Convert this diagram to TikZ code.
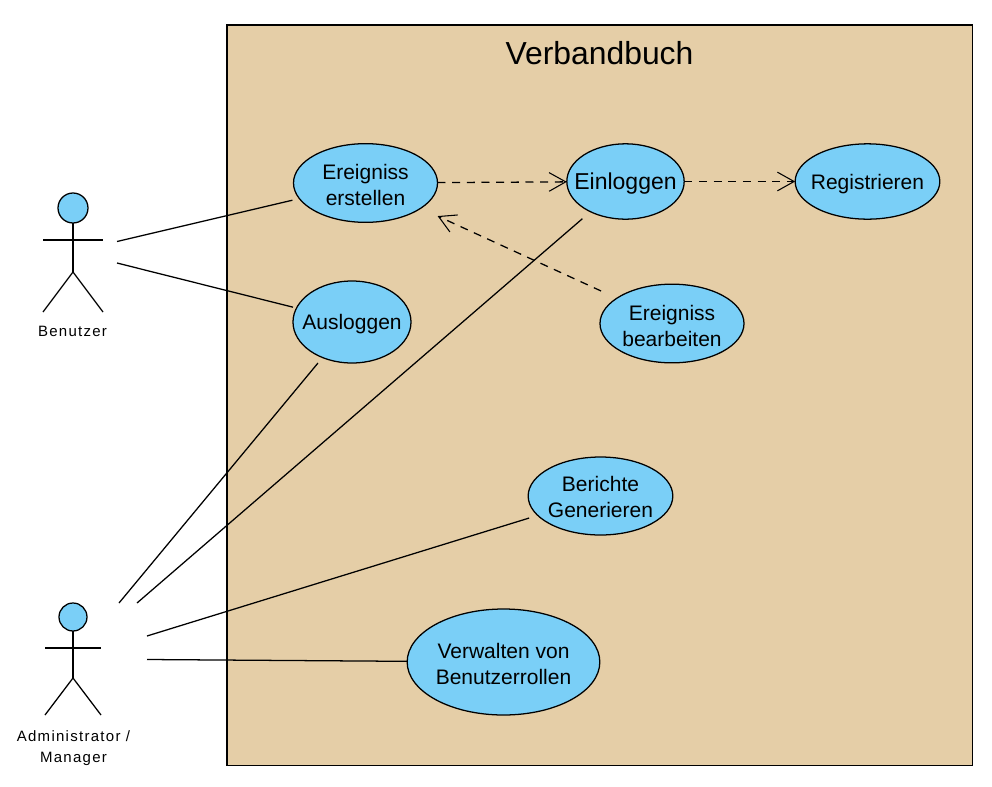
\documentclass[tikz,border=0pt]{standalone}
\usepackage{fontspec}
\setmainfont{Liberation Sans}
\newfontfamily\actorfont[LetterSpace=8.5]{Liberation Sans}
\usetikzlibrary{arrows.meta,shapes.geometric}
\definecolor{sand}{HTML}{E5CEA7}
\definecolor{usecase}{HTML}{7ACFF7}
\tikzset{
  x=0.75pt,y=-0.75pt,
  px/.style={line width=0.95pt},
  uc/.style={ellipse,draw=black,fill=usecase,px,inner xsep=-14pt,inner ysep=0pt,outer sep=0pt,align=center,
    font=\fontsize{15.75}{19.5}\selectfont},
  oneline/.style={uc,text depth=0pt},
  twoline/.style={uc,text height=34pt},
  head/.style={circle,draw=black,fill=usecase,px,inner sep=0pt,outer sep=0pt},
  limb/.style={px,line cap=butt},
  assoc/.style={px},
  dep/.style={px,dash pattern=on 6pt off 5pt,-{Straight Barb[length=12.5pt,width=14pt,line width=0.8pt]}},
  actorlabel/.style={font=\actorfont\fontsize{11.25}{15.6}\selectfont,align=center,inner sep=0pt},
}
\begin{document}
\begin{tikzpicture}
\useasboundingbox (0,0) rectangle (992,786);
\fill[white] (0,0) rectangle (992,786);
\draw[fill=sand,draw=black,line width=0.8pt] (227,25) rectangle (972.5,765.5);
\node[font=\fontsize{23.9}{28}\selectfont,inner sep=0pt] (title) at (599.5,53) {Verbandbuch};

\node[twoline,minimum width=108pt,minimum height=59pt] (erstellen) at (365.5,183) {Ereigniss\\erstellen};
\node[oneline,minimum width=88pt,minimum height=56.5pt,font=\fontsize{17.25}{21}\selectfont] (einloggen) at (625.5,181.5) {Einloggen};
\node[oneline,text height=12.7pt,minimum width=108.5pt,minimum height=56.5pt] (registrieren) at (867.5,181.5) {Registrieren};
\node[twoline,minimum width=108pt,minimum height=59pt] (bearbeiten) at (672,323.5) {Ereigniss\\bearbeiten};
\node[oneline,minimum width=88.5pt,minimum height=61.5pt] (ausloggen) at (352,322) {Ausloggen};
\node[uc,text height=31.7pt,minimum width=108.5pt,minimum height=58.5pt] (berichte) at (600.5,496) {Berichte\\Generieren};
\node[twoline,minimum width=144.5pt,minimum height=79.5pt] (verwalten) at (503.5,662) {Verwalten von\\Benutzerrollen};

% Benutzer
\node[head,minimum size=22.5pt] (h1) at (73,208) {};
\coordinate (b1hip) at (73,272);
\coordinate (b1armL) at (43,240);
\coordinate (b1armR) at (103,240);
\coordinate (b1legL) at (43,312);
\coordinate (b1legR) at (103,312);
\draw[limb] (h1.south) -- (b1hip);
\draw[limb] (b1armL) -- (b1armR);
\draw[limb] (b1legL) -- (b1hip) -- (b1legR);
\node[actorlabel] (benutzer) at (72.5,331) {Benutzer};

% Administrator
\node[head,minimum size=21pt] (h2) at (73,617) {};
\coordinate (b2hip) at (73,678);
\coordinate (b2armL) at (45,648);
\coordinate (b2armR) at (101,648);
\coordinate (b2legL) at (45,715);
\coordinate (b2legR) at (101,715);
\draw[limb] (h2.south) -- (b2hip);
\draw[limb] (b2armL) -- (b2armR);
\draw[limb] (b2legL) -- (b2hip) -- (b2legR);
\node[actorlabel] (admin) at (73.5,748.5) {Administrator /\\Manager};

% free ends of associations
\coordinate (a1) at (117,241.5);
\coordinate (a2) at (117,263);
\coordinate (a3) at (119,603);
\coordinate (a4) at (137,603);
\coordinate (a5) at (147,636);
\coordinate (a6) at (147,659.5);

\draw[assoc,shorten >=5.4pt] (a1) -- (erstellen);
\draw[assoc,shorten >=2.7pt] (a2) -- (ausloggen);
\draw[assoc,shorten >=5.4pt] (a3) -- (ausloggen);
\draw[assoc,shorten >=8pt] (a4) -- (einloggen);
\draw[assoc,shorten >=6.75pt] (a5) -- (berichte);
\draw[assoc] (a6) -- (verwalten);

\draw[dep] (erstellen) -- (einloggen);
\draw[dep] (einloggen) -- (registrieren);
\draw[dep,shorten <=13pt,shorten >=14pt] (bearbeiten) -- (erstellen);
\end{tikzpicture}
\end{document}
